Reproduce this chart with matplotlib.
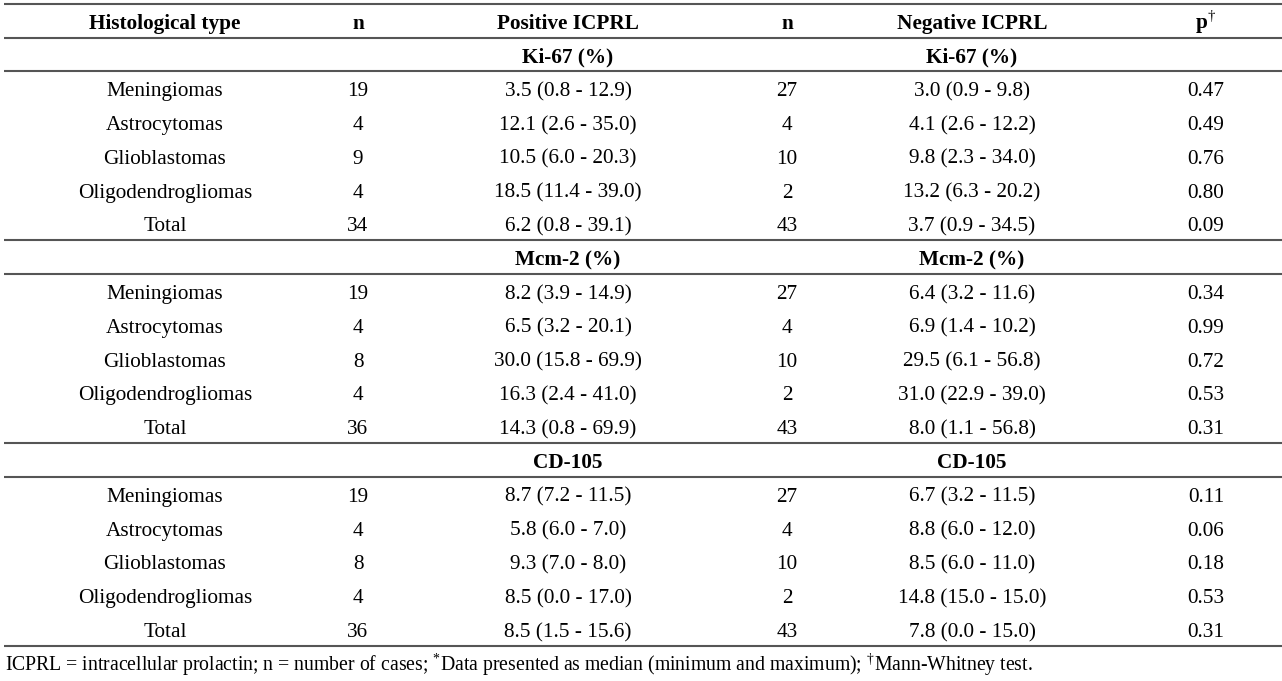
"""
Ki-67 / Mcm-2 / CD-105 by ICPRL status, drawn as a table figure.
Output: out.png
"""
import matplotlib
matplotlib.use("Agg")
import matplotlib.pyplot as plt

plt.rcParams["font.family"] = "Liberation Serif"
plt.rcParams["mathtext.fontset"] = "custom"
plt.rcParams["mathtext.rm"] = "Liberation Serif"

# ---- data ----
headers = ["Histological type", "n", "Positive ICPRL", "n", "Negative ICPRL", r"p$^{\mathrm{†}}$"]
markers = ["Ki-67 (%)", "Mcm-2 (%)", "CD-105"]
types = ["Meningiomas", "Astrocytomas", "Glioblastomas", "Oligodendrogliomas", "Total"]

n_pos = [
    [19, 4, 9, 4, 34],
    [19, 4, 8, 4, 36],
    [19, 4, 8, 4, 36],
]
pos_vals = [
    ["3.5 (0.8 - 12.9)", "12.1 (2.6 - 35.0)", "10.5 (6.0 - 20.3)", "18.5 (11.4 - 39.0)", "6.2 (0.8 - 39.1)"],
    ["8.2 (3.9 - 14.9)", "6.5 (3.2 - 20.1)", "30.0 (15.8 - 69.9)", "16.3 (2.4 - 41.0)", "14.3 (0.8 - 69.9)"],
    ["8.7 (7.2 - 11.5)", "5.8 (6.0 - 7.0)", "9.3 (7.0 - 8.0)", "8.5 (0.0 - 17.0)", "8.5 (1.5 - 15.6)"],
]
n_neg = [
    [27, 4, 10, 2, 43],
    [27, 4, 10, 2, 43],
    [27, 4, 10, 2, 43],
]
neg_vals = [
    ["3.0 (0.9 - 9.8)", "4.1 (2.6 - 12.2)", "9.8 (2.3 - 34.0)", "13.2 (6.3 - 20.2)", "3.7 (0.9 - 34.5)"],
    ["6.4 (3.2 - 11.6)", "6.9 (1.4 - 10.2)", "29.5 (6.1 - 56.8)", "31.0 (22.9 - 39.0)", "8.0 (1.1 - 56.8)"],
    ["6.7 (3.2 - 11.5)", "8.8 (6.0 - 12.0)", "8.5 (6.0 - 11.0)", "14.8 (15.0 - 15.0)", "7.8 (0.0 - 15.0)"],
]
p_vals = [
    ["0.47", "0.49", "0.76", "0.80", "0.09"],
    ["0.34", "0.99", "0.72", "0.53", "0.31"],
    ["0.11", "0.06", "0.18", "0.53", "0.31"],
]
footnote = (r"ICPRL = intracellular prolactin; n = number of cases; "
            r"$^{\mathrm{*}}$Data presented as median (minimum and maximum); "
            r"$^{\mathrm{†}}$Mann-Whitney test.")

# ---- layout (pixels) ----
W, H = 1282, 681
col_x = [165, 358, 568, 787, 972, 1206]
row_h = 33.8
fs = 15.3
base = 7.0  # baseline below row centre
line_kw = dict(color="#555555", lw=1.5)

fig = plt.figure(figsize=(W / 100, H / 100), dpi=100)
ax = fig.add_axes([0, 0, 1, 1])
ax.set_xlim(0, W)
ax.set_ylim(H, 0)
ax.axis("off")

x0, x1 = 4, W
ax.hlines(4, x0, x1, **line_kw)
for x, h in zip(col_x, headers):
    ax.text(x, 22 + base, h, ha="center", va="baseline", fontsize=fs, fontweight="bold")
ax.hlines(37.5, x0, x1, **line_kw)

y = 37.5
for k, mk in enumerate(markers):
    ys = y + row_h / 2 + 1 + base
    ax.text(col_x[2], ys, mk, ha="center", va="baseline", fontsize=fs, fontweight="bold")
    ax.text(col_x[4], ys, mk, ha="center", va="baseline", fontsize=fs, fontweight="bold")
    y += row_h
    ax.hlines(y, x0, x1, **line_kw)
    for i, t in enumerate(types):
        yr = y + row_h / 2 + 1 + base
        cells = [t, str(n_pos[k][i]), pos_vals[k][i], str(n_neg[k][i]), neg_vals[k][i], p_vals[k][i]]
        for x, c in zip(col_x, cells):
            ax.text(x, yr, c, ha="center", va="baseline", fontsize=fs)
        y += row_h
    ax.hlines(y, x0, x1, **line_kw)

ax.text(5, 671, footnote, ha="left", va="baseline", fontsize=14.2)

fig.savefig("out.png", dpi=100)
plt.close(fig)
